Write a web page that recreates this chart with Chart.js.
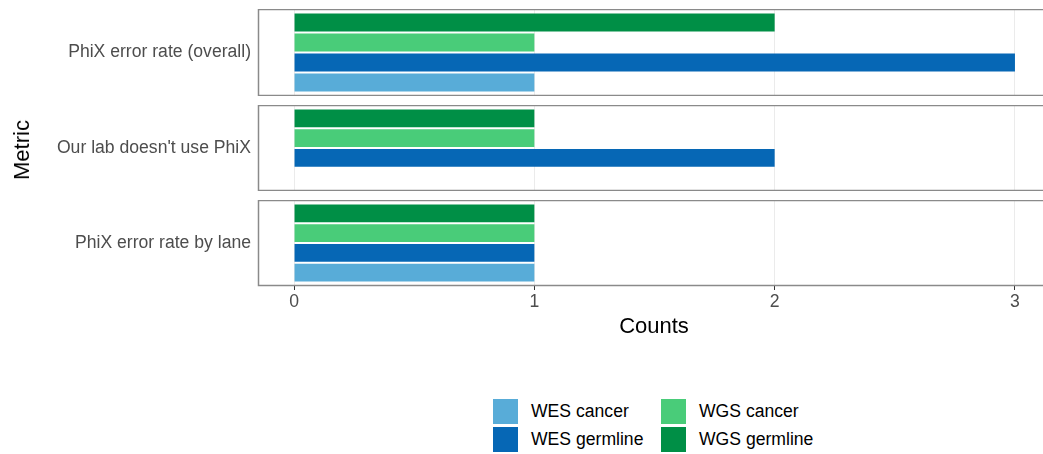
<!DOCTYPE html>
<html>
<head>
<meta charset="utf-8">
<script src="https://cdn.jsdelivr.net/npm/chart.js@4.4.1/dist/chart.umd.min.js"></script>
<style>
  html, body { margin: 0; padding: 0; background: #fff; overflow: hidden; }
  body { width: 1043px; height: 454px; position: relative; font-family: 'Liberation Sans', Arial, sans-serif; }
  .facet { position: absolute; left: 0; width: 1060px; }
  .title { position: absolute; color: #000; font-size: 22px; white-space: nowrap; }
  .legend { position: absolute; left: 493px; top: 399px; display: grid; grid-template-columns: 168px 180px; row-gap: 4px; }
  .legend div { display: flex; align-items: center; font-size: 17.6px; color: #000; height: 24px; }
  .legend span { display: inline-block; width: 25px; height: 25px; margin-right: 13px; }
</style>
</head>
<body>
<div class="facet" style="top:9px;height:87px"><canvas id="facet0"></canvas></div>
<div class="facet" style="top:105px;height:86px"><canvas id="facet1"></canvas></div>
<div class="facet" style="top:200px;height:114px"><canvas id="facet2"></canvas></div>
<div class="title" style="left:22px;top:150px;transform:translate(-50%,-50%) rotate(-90deg)">Metric</div>
<div class="title" style="left:654px;top:326px;transform:translate(-50%,-50%)">Counts</div>
<div class="legend" id="legend"></div>
<script>
const metrics = ['PhiX error rate (overall)', "Our lab doesn't use PhiX", 'PhiX error rate by lane'];
const wesCancer = [1, null, 1];
const wesGermline = [3, 2, 1];
const wgsCancer = [1, 1, 1];
const wgsGermline = [2, 1, 1];
const xTicks = [0, 1, 2, 3];

const series = [
  { name: 'WES cancer', data: wesCancer, color: '#58acd8' },
  { name: 'WES germline', data: wesGermline, color: '#0667b5' },
  { name: 'WGS cancer', data: wgsCancer, color: '#49cc79' },
  { name: 'WGS germline', data: wgsGermline, color: '#008f46' },
];

// legend, ggplot style: two columns, filled by column
const legendOrder = [0, 2, 1, 3];
document.getElementById('legend').innerHTML = legendOrder
  .map((i) => `<div><span style="background:${series[i].color}"></span>${series[i].name}</div>`)
  .join('');

const panelBorder = {
  id: 'panelBorder',
  afterDraw(chart) {
    const { ctx, chartArea: a } = chart;
    ctx.save();
    ctx.strokeStyle = '#8a8a8a';
    ctx.lineWidth = 1.5;
    ctx.strokeRect(a.left + 0.5, a.top + 0.5, a.right - a.left - 1, a.bottom - a.top - 1);
    ctx.restore();
  },
};

const axisFont = { family: "'Liberation Sans', Arial, sans-serif", size: 17.6 };

metrics.forEach((metric, i) => {
  const last = i === metrics.length - 1;
  // top-to-bottom inside a panel: WGS germline, WGS cancer, WES germline, WES cancer
  const datasets = series.slice().reverse().map((s) => ({
    label: s.name,
    data: [s.data[i]],
    backgroundColor: s.color,
    borderWidth: 0,
    categoryPercentage: 0.92,
    barPercentage: 0.9,
  }));
  new Chart(document.getElementById('facet' + i), {
    type: 'bar',
    data: { labels: [metric], datasets },
    plugins: [panelBorder],
    options: {
      indexAxis: 'y',
      responsive: true,
      maintainAspectRatio: false,
      animation: false,
      layout: { padding: { top: 0, right: 9, bottom: 0, left: 0 } },
      plugins: { legend: { display: false }, tooltip: { enabled: false } },
      scales: {
        x: {
          type: 'linear',
          min: -0.15,
          max: 3.15,
          afterBuildTicks: (scale) => { scale.ticks = xTicks.map((v) => ({ value: v })); },
          afterFit: (scale) => {
            scale.height = last ? 28 : 0;
            scale.paddingLeft = 0;
            scale.paddingRight = 0;
          },
          border: { display: false },
          grid: { color: '#ebebeb', lineWidth: 1, drawTicks: last, tickLength: 4, tickColor: '#333333' },
          ticks: { display: last, color: '#4d4d4d', font: axisFont, padding: 2, maxRotation: 0 },
        },
        y: {
          afterFit: (scale) => {
            scale.width = 258;
            scale.paddingTop = 0;
            scale.paddingBottom = 0;
          },
          border: { display: false },
          grid: { display: false, drawTicks: false },
          ticks: { color: '#4d4d4d', font: axisFont, padding: 7 },
        },
      },
    },
  });
});
</script>
</body>
</html>
